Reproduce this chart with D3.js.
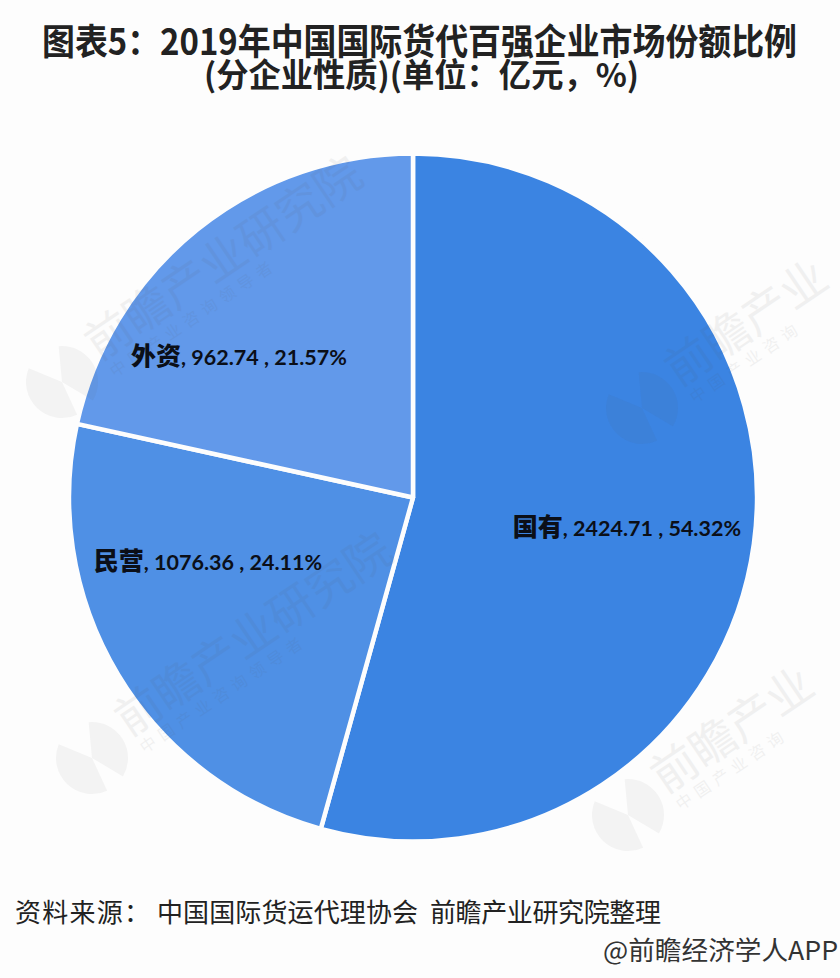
<!DOCTYPE html>
<html>
<head>
<meta charset="utf-8">
<script src="https://cdn.jsdelivr.net/npm/d3@7"></script>
<style>
  html, body { margin: 0; padding: 0; background: #fdfdfd; }
  svg { display: block; }
  text { font-family: "Noto Sans CJK SC", sans-serif; }
</style>
</head>
<body>
<svg id="chart" width="840" height="978"></svg>
<script>
// data
const categories = ["国有", "民营", "外资"];
const values = [2424.71, 1076.36, 962.74];
const shares = ["54.32%", "24.11%", "21.57%"];
const colors = ["#3b84e2", "#4f90e5", "#6299ea"];

const width = 840, height = 978;
const cx = 413, cy = 497.5, radius = 344;

// labels were hand placed in the original, so angle (deg) and radius are set per slice
const labelAngles = [98, 252.5, 309];
const labelRadii = [216, 215, 224];

const svg = d3.select("#chart");

// title, a bit taller than wide like the original
const title = svg.append("g").attr("fill", "#222").attr("font-weight", 700);
title.append("text")
  .attr("transform", "translate(42,55) scale(1,1.1)")
  .attr("font-size", 33)
  .attr("textLength", 755)
  .attr("lengthAdjust", "spacingAndGlyphs")
  .text("图表5：2019年中国国际货代百强企业市场份额比例");
title.append("text")
  .attr("transform", "translate(204,87) scale(1,1.08)")
  .attr("font-size", 30)
  .attr("textLength", 435)
  .attr("lengthAdjust", "spacingAndGlyphs")
  .text("(分企业性质)(单位：亿元，%)");

// pie
const pie = d3.pie().sort(null).value(d => d);
const arc = d3.arc().innerRadius(0).outerRadius(radius);

const plot = svg.append("g").attr("transform", `translate(${cx},${cy})`);

plot.selectAll("path")
  .data(pie(values))
  .enter().append("path")
  .attr("d", arc)
  .attr("fill", (d, i) => colors[i])
  .attr("stroke", "#fdfdfd")
  .attr("stroke-width", 4.5)
  .attr("stroke-linejoin", "round");

// watermarks sit over the pie, very faint; the ones on the right are cut by the page edge in the original
const marks = [
  { x: 62, y: 382, big: "前瞻产业研究院", small: "中国产业咨询领导者" },
  { x: 642, y: 408, big: "前瞻产业", small: "中国产业咨询" },
  { x: 92, y: 758, big: "前瞻产业研究院", small: "中国产业咨询领导者" },
  { x: 628, y: 815, big: "前瞻产业", small: "中国产业咨询" },
];

// logo is a disc split by a slanted gap
const logoArc = d3.arc().innerRadius(0).outerRadius(36);

const wm = svg.append("g").attr("pointer-events", "none");
marks.forEach((m) => {
  const g = wm.append("g")
    .attr("transform", `translate(${m.x},${m.y}) rotate(-34)`)
    .attr("fill", "#555");
  g.append("path")
    .attr("d", logoArc({ startAngle: 0.5, endAngle: 2.7 }))
    .attr("opacity", 0.06);
  g.append("path")
    .attr("d", logoArc({ startAngle: 3.3, endAngle: 5.7 }))
    .attr("opacity", 0.06);
  g.append("text")
    .attr("x", 42).attr("y", 4)
    .attr("font-size", 46)
    .attr("opacity", 0.07)
    .text(m.big);
  g.append("text")
    .attr("x", 46).attr("y", 26)
    .attr("font-size", 16)
    .attr("letter-spacing", 6)
    .attr("opacity", 0.07)
    .text(m.small);
});

// slice labels
const labels = svg.append("g");
categories.forEach((name, i) => {
  const a = labelAngles[i] * Math.PI / 180;
  const t = labels.append("text")
    .attr("x", cx + labelRadii[i] * Math.sin(a))
    .attr("y", cy - labelRadii[i] * Math.cos(a) + 8)
    .attr("text-anchor", "middle")
    .attr("fill", "#0b0f18");
  t.append("tspan")
    .attr("font-size", 25)
    .attr("font-weight", 900)
    .text(name);
  t.append("tspan")
    .attr("font-family", "Lato, sans-serif")
    .attr("font-size", 21.5)
    .attr("font-weight", 700)
    .text(`, ${values[i].toFixed(2)} , ${shares[i]}`);
});

// footer
const footer = svg.append("g").attr("font-size", 26).attr("fill", "#222");
footer.append("text")
  .attr("x", 15).attr("y", 922)
  .attr("textLength", 135)
  .text("资料来源：");
footer.append("text")
  .attr("x", 157).attr("y", 922)
  .attr("textLength", 261)
  .text("中国国际货运代理协会");
footer.append("text")
  .attr("x", 430).attr("y", 922)
  .attr("textLength", 231)
  .text("前瞻产业研究院整理");

svg.append("text")
  .attr("x", 603).attr("y", 960)
  .attr("font-size", 26)
  .attr("fill", "#333")
  .attr("textLength", 235)
  .attr("lengthAdjust", "spacingAndGlyphs")
  .text("@前瞻经济学人APP");
</script>
</body>
</html>
